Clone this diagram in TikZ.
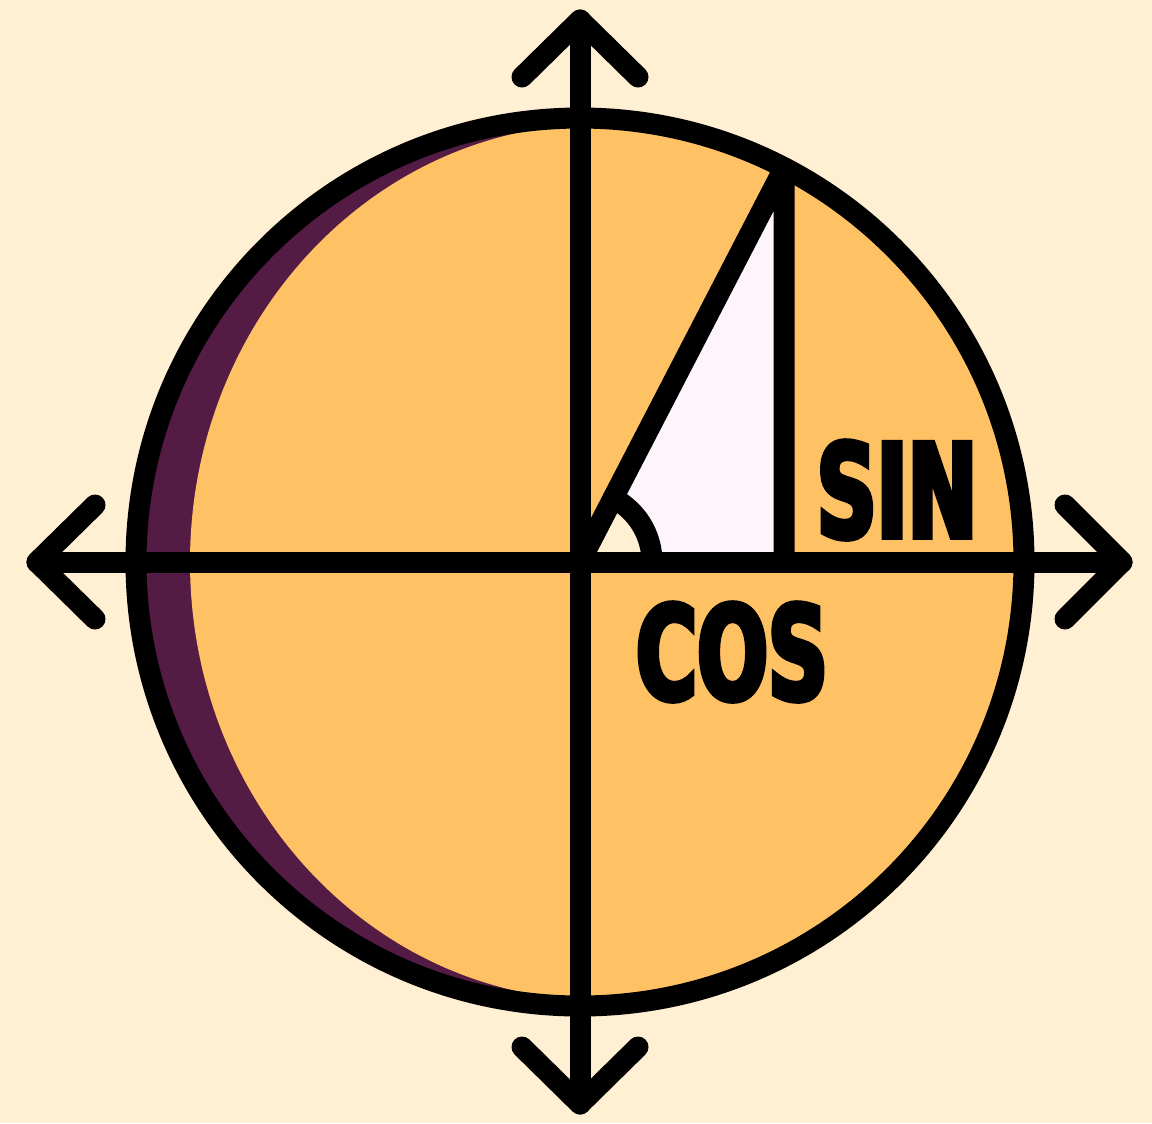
\documentclass[tikz,border=0pt]{standalone}
\usepackage{fontspec}
\newfontfamily\trigfont{DejaVu Sans}[FakeStretch=0.64, FakeBold=4]
\definecolor{cream}{HTML}{FFF0D4}
\definecolor{peach}{HTML}{FEC265}
\definecolor{plum}{HTML}{541B45}
\definecolor{blush}{HTML}{FDF5FB}

\begin{document}
\begin{tikzpicture}[x=0.01cm, y=-0.01cm,
  ink/.style={draw=black, line width=0.21cm, line cap=round, line join=round},
  lbl/.style={inner sep=0pt, font=\trigfont\bfseries\fontsize{37}{37}\selectfont}]
\fill[cream] (0,0) rectangle (1152,1123);
\useasboundingbox (0,0) rectangle (1152,1123);
\coordinate (O) at (580,562);
\coordinate (P) at (784,168);
\coordinate (Q) at (784,562);
\coordinate (A) at (652,562);
\begin{scope}
  \clip (O) circle[radius=444];
  \fill[plum] (O) circle[radius=444];
  \fill[peach] (600,562) ellipse[x radius=410, y radius=438];
  \fill[peach] (600,100) rectangle (1050,1030);
\end{scope}
\fill[blush] (O) -- (P) -- (Q) -- cycle;
\fill[cream] (O) -- (A) arc[start angle=0, end angle=-62.65, radius=72] -- cycle;
\draw[ink] (O) circle[radius=444];
\draw[ink] (37,562) -- (1122,562);
\draw[ink] (580,20) -- (580,1104);
\draw[ink] (95,505) -- (37,562) -- (95,619);
\draw[ink] (1065,505) -- (1122,562) -- (1065,619);
\draw[ink] (522,77) -- (580,20) -- (638,77);
\draw[ink] (522,1047) -- (580,1104) -- (638,1047);
\draw[ink] (O) -- (P) -- (Q);
\draw[ink] (A) arc[start angle=0, end angle=-62.65, radius=72];
\node[lbl] (sinlab) at (897,490) {SIN};
\node[lbl] (coslab) at (732,652) {COS};
\end{tikzpicture}
\end{document}
